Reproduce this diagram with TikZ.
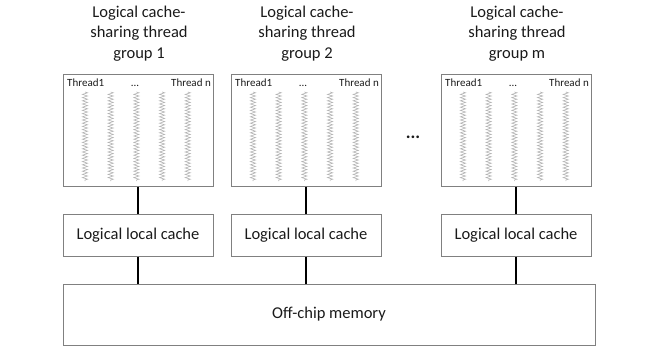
\documentclass[tikz,border=0pt]{standalone}
\usepackage{fontspec}
\setmainfont{Carlito}
\usetikzlibrary{decorations.pathmorphing}
\definecolor{boxgray}{HTML}{808080}
\definecolor{ziggray}{HTML}{B4B4B4}
\definecolor{txt}{HTML}{1A1A1A}
\tikzset{
  grpbox/.style={draw=boxgray, line width=1pt, minimum width=150pt, minimum height=112pt, inner sep=0pt},
  cachebox/.style={draw=boxgray, line width=1pt, minimum width=150pt, minimum height=42pt, inner sep=0pt, font=\fontsize{16.5pt}{20pt}\selectfont, text=txt},
  membox/.style={draw=boxgray, line width=1pt, minimum width=532pt, minimum height=61pt, inner sep=0pt, font=\fontsize{16.5pt}{20pt}\selectfont, text=txt},
  headlbl/.style={align=center, font=\fontsize{16.5pt}{20.6pt}\selectfont, text=txt, inner sep=0pt},
  thrlbl/.style={font=\fontsize{11pt}{13pt}\selectfont, text=txt, inner sep=0pt},
  zig/.style={draw=ziggray, line width=0.6pt, decorate, decoration={zigzag, segment length=3.2pt, amplitude=2.6pt}},
  conn/.style={draw=black, line width=1.5pt}
}
\begin{document}
\begin{tikzpicture}[x=1pt, y=-1pt]
\useasboundingbox (0,0) rectangle (654,356);
\foreach \i/\cx/\lab in {1/138/1, 2/306/2, 3/516/m} {
  \node[headlbl] (h\i) at (\cx+1,33.5) {Logical cache-\\sharing thread\\group \lab};
  \node[grpbox] (g\i) at (\cx,130) {};
  \node[thrlbl, anchor=base west] (ta\i) at (\cx-71,86.5) {Thread1};
  \node[thrlbl, anchor=base] (tb\i) at (\cx-3,86.5) {...};
  \node[thrlbl, anchor=base east] (tc\i) at (\cx+73,86.5) {Thread n};
  \foreach \k in {0,...,4} {
    \coordinate (zs\i\k) at (\cx-53+25.7*\k,92);
    \coordinate (ze\i\k) at (\cx-53+25.7*\k,181);
    \draw[zig] (zs\i\k) -- (ze\i\k);
  }
  \node[cachebox] (c\i) at (\cx,235) {Logical local cache};
}
\node[membox] (mem) at (329,314.5) {Off-chip memory};
\node[inner sep=0pt, font=\fontsize{18pt}{20pt}\bfseries, text=txt] (dots) at (413,137) {...};
\foreach \i in {1,2,3} {
  \draw[conn] (g\i.south) -- (c\i.north);
  \draw[conn] (c\i.south) -- (c\i.south |- mem.north);
}
\end{tikzpicture}
\end{document}
